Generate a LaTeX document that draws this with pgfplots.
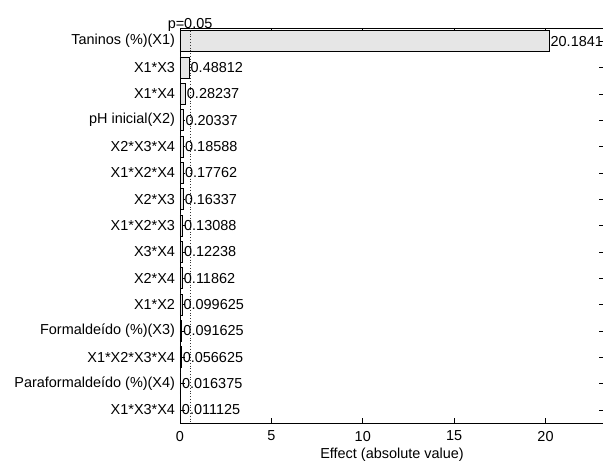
\documentclass[border=0pt]{standalone}
\usepackage{fontspec}
\setmainfont{Liberation Sans}
\usepackage{pgfplots}
\usepackage{pgfplotstable}
\pgfplotsset{compat=1.18}
\newcommand\fs{\fontsize{14.5}{17}\selectfont}
\definecolor{barfill}{RGB}{230,230,230}
\pgfplotstableread{
y x label
1 20.1841 20.1841
2 0.48812 0.48812
3 0.28237 0.28237
4 0.20337 0.20337
5 0.18588 0.18588
6 0.17762 0.17762
7 0.16337 0.16337
8 0.13088 0.13088
9 0.12238 0.12238
10 0.11862 0.11862
11 0.099625 0.099625
12 0.091625 0.091625
13 0.056625 0.056625
14 0.016375 0.016375
15 0.011125 0.011125
}\effects
\begin{document}
\fs
\begin{tikzpicture}
\begin{axis}[
  name=ax,
  scale only axis,
  clip=false,
  width=424bp, height=395bp,
  xmin=0, xmax=23.2,
  ymin=0.5, ymax=15.5,
  y dir=reverse,
  xbar, bar width=0.8,
  xtick={0,5,10,15,20},
  ytick={1,...,15},
  yticklabels={Taninos (\%)(X1), X1*X3, X1*X4, pH inicial(X2), X2*X3*X4, X1*X2*X4, X2*X3, X1*X2*X3, X3*X4, X2*X4, X1*X2, Formaldeído (\%)(X3), X1*X2*X3*X4, Paraformaldeído (\%)(X4), X1*X3*X4},
  tick pos=both, ticklabel pos=lower,
  tick align=inside,
  major tick length=5bp,
  tick style={black, line width=0.6pt},
  axis line style={black, line width=0.6pt},
  /pgf/number format/assume math mode=true,
  every tick label/.append style={font=\fs, black},
  xticklabel style={yshift=-3bp},
  xlabel={Effect (absolute value)},
  xlabel style={font=\fs, yshift=3bp},
  nodes near coords,
  point meta=explicit symbolic,
  every node near coord/.append style={font=\fs, anchor=west, inner sep=1.5bp, black},
]
\addplot[draw=black, fill=barfill, line width=0.6pt] table[x=x, y=y, meta=label] {\effects};
\addplot[black!80, dotted, line width=0.8pt, nodes near coords={}, xbar=0pt, forget plot, sharp plot] coordinates {(0.55,0.5) (0.55,15.5)};
\node[font=\fs, anchor=base, inner sep=0pt] at (axis cs:0.55,0.5) {p=0.05};
\end{axis}
\pgfresetboundingbox
\path[use as bounding box] ([xshift=-180bp,yshift=-43bp]ax.south west) rectangle ([xshift=423bp,yshift=28bp]ax.north west);
\end{tikzpicture}
\end{document}
